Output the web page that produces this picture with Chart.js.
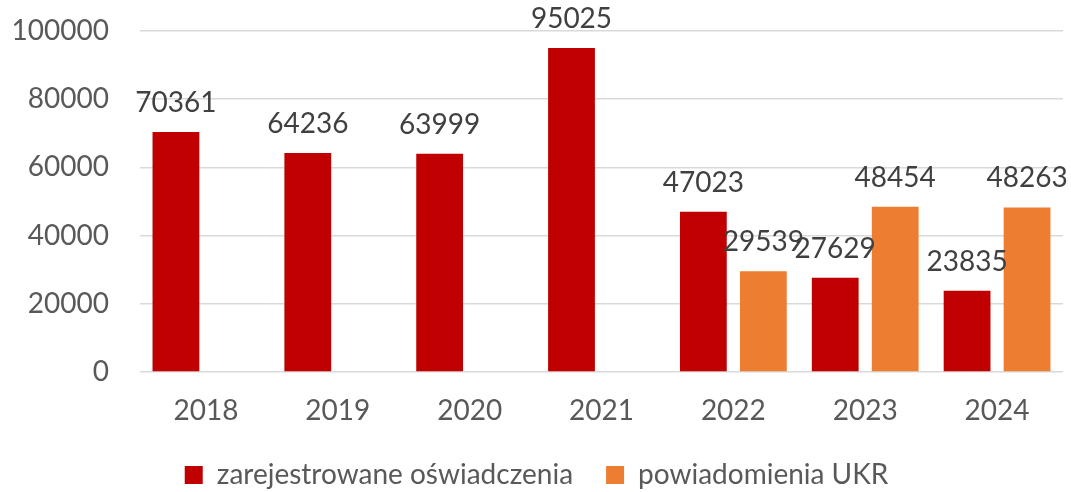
<!DOCTYPE html>
<html>
<head>
<meta charset="utf-8">
<script src="https://cdn.jsdelivr.net/npm/chart.js@4"></script>
<style>
  html, body { margin: 0; padding: 0; background: #fff; }
  #wrap { width: 1071px; height: 492px; }
</style>
</head>
<body>
<div id="wrap"><canvas id="chart"></canvas></div>
<script>
const years = ['2018', '2019', '2020', '2021', '2022', '2023', '2024'];
const registered = [70361, 64236, 63999, 95025, 47023, 27629, 23835];
const ukrNotices = [null, null, null, null, 29539, 48454, 48263];
const yTicks = [0, 20000, 40000, 60000, 80000, 100000];

const FONT = 'Lato, "Open Sans", sans-serif';

// labels above each bar, like Excel's "outside end"
const barLabels = {
  id: 'barLabels',
  afterDatasetsDraw(chart) {
    const ctx = chart.ctx;
    ctx.save();
    ctx.font = `28px ${FONT}`;
    ctx.fillStyle = '#404040';
    ctx.textAlign = 'center';
    ctx.textBaseline = 'middle';
    chart.data.datasets.forEach((ds, i) => {
      chart.getDatasetMeta(i).data.forEach((bar, j) => {
        const v = ds.data[j];
        if (v == null) return;
        ctx.fillText(String(v), bar.x, bar.y - 29);
      });
    });
    ctx.restore();
  }
};

new Chart(document.getElementById('chart'), {
  type: 'bar',
  data: {
    labels: years,
    datasets: [
      {
        label: 'zarejestrowane oświadczenia',
        data: registered,
        backgroundColor: '#C00000',
        categoryPercentage: 0.91,
        barPercentage: 0.78
      },
      {
        label: 'powiadomienia UKR',
        data: ukrNotices,
        backgroundColor: '#ED7D31',
        categoryPercentage: 0.91,
        barPercentage: 0.78
      }
    ]
  },
  options: {
    responsive: true,
    maintainAspectRatio: false,
    animation: false,
    layout: { padding: { top: 31, right: 8, left: 10, bottom: -7 } },
    plugins: {
      legend: {
        position: 'bottom',
        labels: {
          boxWidth: 18,
          boxHeight: 18,
          padding: 33,
          color: '#595959',
          font: { family: FONT, size: 28 }
        }
      },
      tooltip: { enabled: false }
    },
    scales: {
      x: {
        grid: { display: false, drawTicks: false },
        border: { display: false },
        ticks: {
          color: '#595959',
          padding: 22,
          font: { family: FONT, size: 28 }
        },
        afterFit: s => { s.height = 56; }
      },
      y: {
        min: 0,
        max: 100000,
        afterBuildTicks: s => { s.ticks = yTicks.map(v => ({ value: v })); },
        grid: { color: '#D9D9D9', lineWidth: 1.5, tickLength: 31, tickColor: 'rgba(0,0,0,0)' },
        border: { display: false },
        ticks: {
          color: '#595959',
          padding: 0,
          font: { family: FONT, size: 28 },
          callback: v => String(v)
        },
        afterFit: s => { s.width = 130; }
      }
    }
  },
  plugins: [barLabels]
});
</script>
</body>
</html>
